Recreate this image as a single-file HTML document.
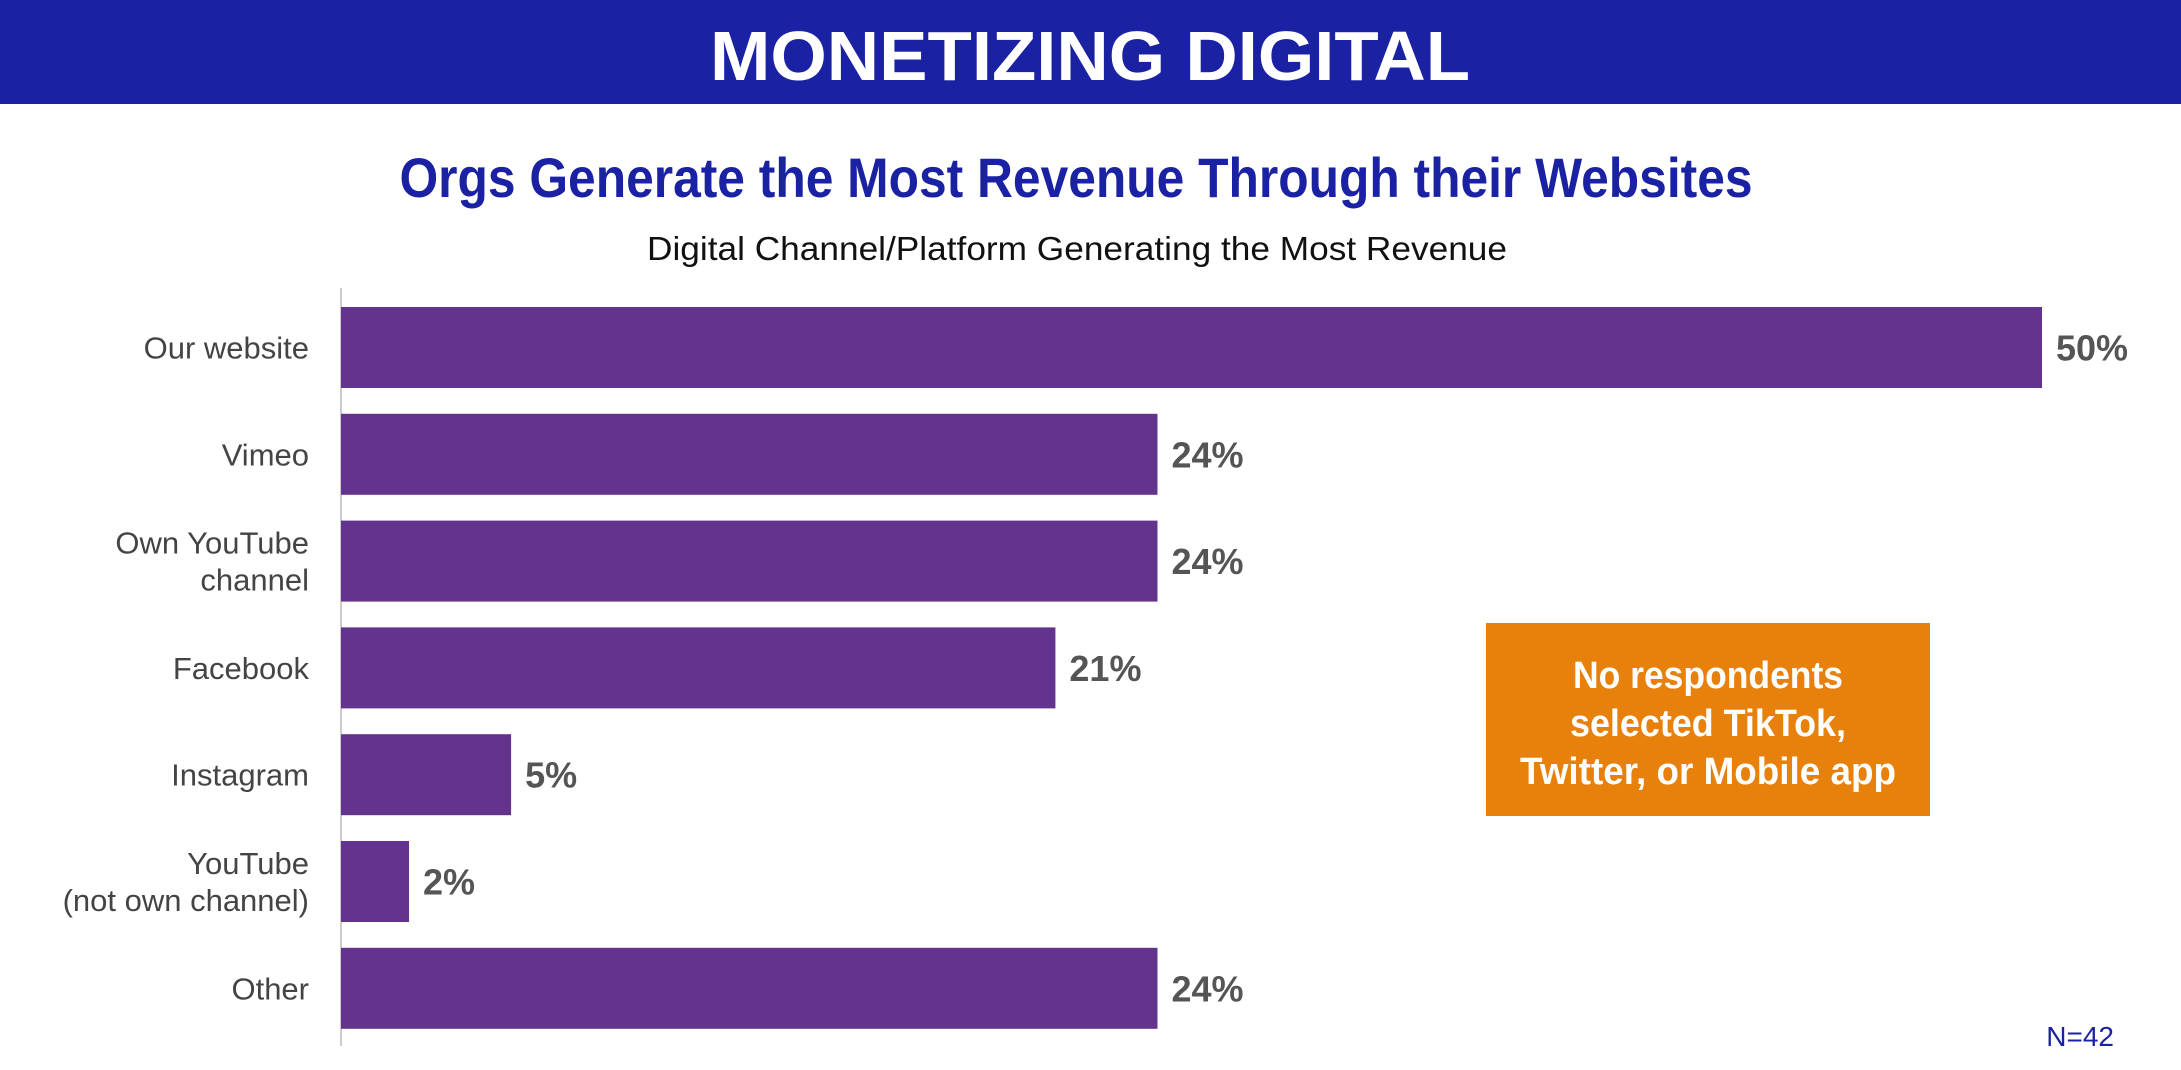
<!DOCTYPE html>
<html><head><meta charset="utf-8"><style>
html,body{margin:0;padding:0;background:#fff;width:2181px;height:1070px;overflow:hidden}
svg{display:block}
text{font-family:"Liberation Sans",sans-serif}
</style></head><body>
<svg id="chart" width="2181" height="1070" viewBox="0 0 2181 1070">
<rect x="0" y="0" width="2181" height="104" fill="#1b21a3"/>
<text x="1090" y="80" text-anchor="middle" font-size="70" font-weight="bold" fill="#fff" textLength="760" lengthAdjust="spacingAndGlyphs">MONETIZING DIGITAL</text>
<text x="1076" y="197" text-anchor="middle" font-size="56" font-weight="bold" fill="#1b21a3" textLength="1353" lengthAdjust="spacingAndGlyphs">Orgs Generate the Most Revenue Through their Websites</text>
<text x="1077" y="260" text-anchor="middle" font-size="33" fill="#111" textLength="860" lengthAdjust="spacingAndGlyphs">Digital Channel/Platform Generating the Most Revenue</text>
<line x1="341" y1="288" x2="341" y2="1046" stroke="#bbb" stroke-width="1.5"/>
<g id="bars"></g>
<rect x="1486" y="623" width="444" height="193" fill="#e8800c"/>
<g font-size="38" font-weight="bold" fill="#fff" text-anchor="middle">
<text x="1708" y="688" textLength="270" lengthAdjust="spacingAndGlyphs">No respondents</text>
<text x="1708" y="736" textLength="276" lengthAdjust="spacingAndGlyphs">selected TikTok,</text>
<text x="1708" y="784" textLength="376" lengthAdjust="spacingAndGlyphs">Twitter, or Mobile app</text>
</g>
<text x="2114" y="1046" text-anchor="end" font-size="28" fill="#1b21a3">N=42</text>
</svg>
<script>
const categories=[["Our website"],["Vimeo"],["Own YouTube","channel"],["Facebook"],["Instagram"],["YouTube","(not own channel)"],["Other"]];
const values=[50,24,24,21,5,2,24];
const valueLabels=["50%","24%","24%","21%","5%","2%","24%"];
const NS="http://www.w3.org/2000/svg";
const x0=341,pxPerPct=34.02,top0=307,step=106.8,barH=81;
const xs=v=>x0+v*pxPerPct;
const ys=i=>top0+i*step;
const g=document.getElementById('bars');
values.forEach((v,i)=>{
  const r=document.createElementNS(NS,'rect');
  r.setAttribute('x',x0);r.setAttribute('y',ys(i));
  r.setAttribute('width',xs(v)-x0);r.setAttribute('height',barH);
  r.setAttribute('fill','#64338e');
  
  
  g.appendChild(r);
  const t=document.createElementNS(NS,'text');
  t.setAttribute('x',xs(v)+14);t.setAttribute('y',ys(i)+barH/2+13);
  t.setAttribute('font-size','36');t.setAttribute('font-weight','bold');t.setAttribute('fill','#555');
  t.textContent=valueLabels[i];
  
  
  g.appendChild(t);
  const lines=categories[i];
  lines.forEach((s,j)=>{
    const l=document.createElementNS(NS,'text');
    const cy=ys(i)+barH/2+11+(j-(lines.length-1)/2)*37;
    l.setAttribute('x',309);l.setAttribute('y',cy);
    l.setAttribute('text-anchor','end');l.setAttribute('font-size','31');l.setAttribute('fill','#444');
    l.textContent=s;
    
    
    g.appendChild(l);
  });
});
</script>
</body></html>
